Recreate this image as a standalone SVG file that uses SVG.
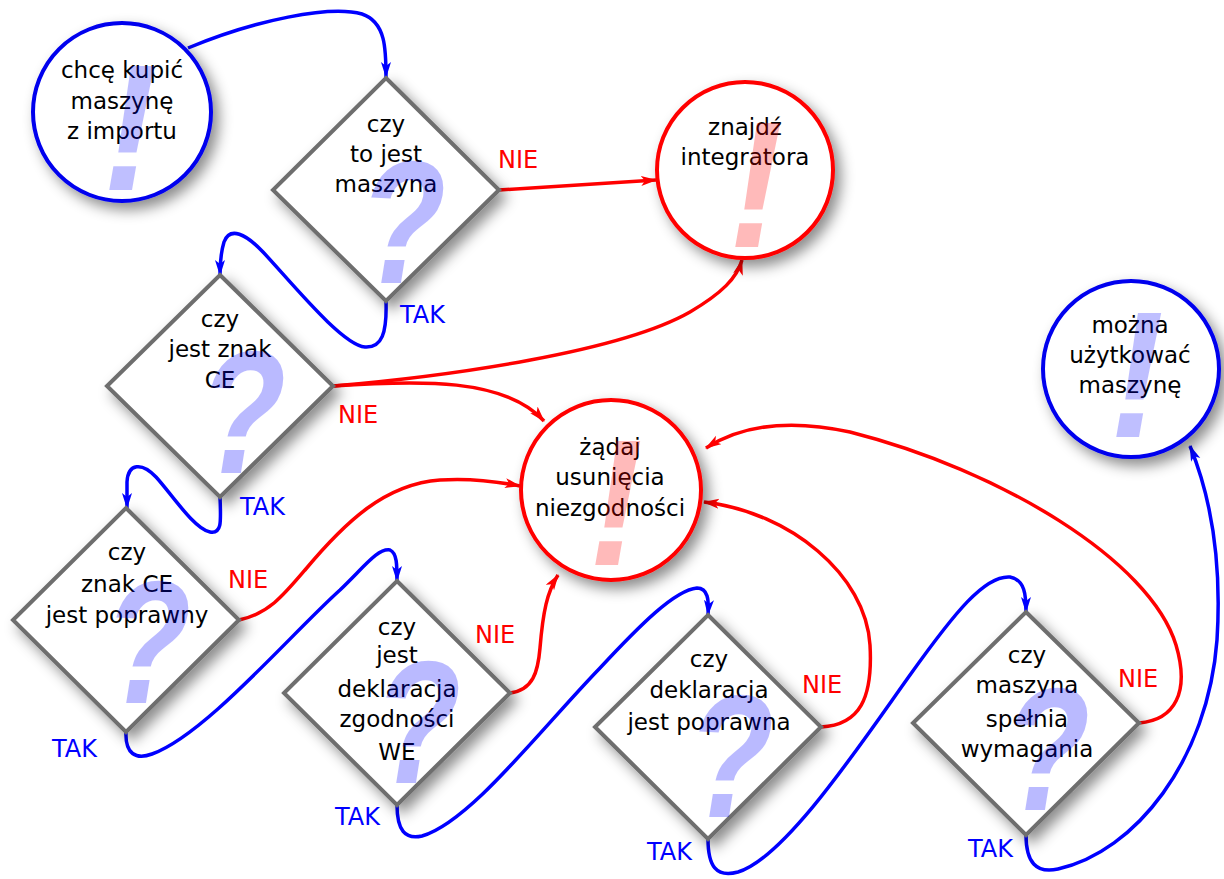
<svg xmlns="http://www.w3.org/2000/svg" width="1224" height="879" viewBox="0 0 1224 879">
  <style>
    .txt { font-family: "DejaVu Sans", "Liberation Sans", sans-serif; font-size: 23px; fill: #000; text-anchor: middle; }
    .lbl { font-family: "DejaVu Sans", "Liberation Sans", sans-serif; font-size: 24px; }
    .nie { fill: #ff0000; }
    .tak { fill: #0000ff; }
    .dia { fill: #fff; stroke: #6e6e6e; stroke-width: 4; filter: url(#shadow); }
    .cb { fill: #fff; stroke: #0000ee; stroke-width: 4; filter: url(#shadow); }
    .cr { fill: #fff; stroke: #ff0000; stroke-width: 4; filter: url(#shadow); }
    .q { font-family: "Liberation Sans", sans-serif; font-weight: bold; font-size: 175px; text-anchor: middle; fill: #0000ff; fill-opacity: 0.27; }
    .exb { font-family: "Liberation Sans", sans-serif; font-weight: bold; font-style: italic; font-size: 180px; text-anchor: middle; fill: #0000ff; fill-opacity: 0.25; }
    .exr { font-family: "Liberation Sans", sans-serif; font-weight: bold; font-style: italic; font-size: 180px; text-anchor: middle; fill: #ff0000; fill-opacity: 0.27; }
    .yes { fill: none; stroke: #0000ff; stroke-width: 3.5; marker-end: url(#ab); }
    .no { fill: none; stroke: #ff0000; stroke-width: 3.5; marker-end: url(#ar); }
  </style>
  <defs>
    <filter id="shadow" x="-30%" y="-30%" width="160%" height="160%">
      <feDropShadow dx="6" dy="7" stdDeviation="7" flood-color="#000" flood-opacity="0.45"/>
    </filter>
    <marker id="ab" markerUnits="userSpaceOnUse" markerWidth="18" markerHeight="12" refX="15" refY="5" orient="auto">
      <path d="M0,0 L16,5 L0,10 L4,5 z" fill="#0000ff"/>
    </marker>
    <marker id="ar" markerUnits="userSpaceOnUse" markerWidth="18" markerHeight="12" refX="15" refY="5" orient="auto">
      <path d="M0,0 L16,5 L0,10 L4,5 z" fill="#ff0000"/>
    </marker>
  </defs>

  <rect width="1224" height="879" fill="#fff"/>

  <!-- connectors -->
  <g id="connectors">
    <path class="yes" d="M188,48 C255,20 330,5 362,14 C386,22 386,50 386,77"/>
    <path class="no" d="M499,190 L656,180"/>
    <path class="yes" d="M386,301 C387,333 382,348 365,347 C342,345 292,283 263,252 C246,234 230,226 224,242 C221,252 220,262 220,275"/>
    <path class="no" d="M333,386 C450,376 620,352 690,312 C722,293 737,278 742,260"/>
    <path class="no" d="M333,386 C420,380 505,378 544,421"/>
    <path class="yes" d="M220,497 C221,522 222,534 210,532 C194,529 170,492 156,477 C142,462 128,463 127,482 L127,508"/>
    <path class="no" d="M239,620 C268,614 283,596 305,570 C345,522 385,484 440,480 C470,478 495,481 520,486"/>
    <path class="yes" d="M126,732 C125,754 136,760 152,754 C205,735 290,635 340,590 C365,566 378,548 390,550 C397,553 397,565 397,581"/>
    <path class="no" d="M510,693 C533,690 538,672 540,648 C543,612 547,592 558,575"/>
    <path class="yes" d="M397,805 C397,830 405,840 422,836 C470,822 540,730 600,668 C640,625 675,590 697,588 C708,588 709,600 708,615"/>
    <path class="no" d="M821,727 C860,725 873,698 870,645 C866,575 790,512 704,502"/>
    <path class="yes" d="M708,839 C708,866 716,878 738,872 C785,858 860,745 910,675 C955,612 985,575 1010,577 C1025,580 1026,595 1026,612"/>
    <path class="no" d="M1139,723 C1175,720 1190,692 1176,645 C1150,560 1000,470 850,432 C790,419 742,425 706,448"/>
    <path class="yes" d="M1026,835 C1026,862 1036,874 1058,869 C1135,852 1208,760 1217,640 C1222,560 1210,495 1190,446"/>
  </g>

  <!-- start -->
  <g id="start">
    <circle class="cb" cx="122" cy="112" r="89"/>
    <text class="txt" x="122" y="78">chcę kupić</text>
    <text class="txt" x="122" y="109">maszynę</text>
    <text class="txt" x="122" y="139">z importu</text>
    <text class="exb" transform="translate(130,190) scale(0.9,1)">!</text>
  </g>

  <g id="q-maszyna">
    <polygon class="dia" points="386,78 499,190 386,301 273,190"/>
    <text class="txt" x="386" y="132">czy</text>
    <text class="txt" x="386" y="162">to jest</text>
    <text class="txt" x="386" y="192">maszyna</text>
    <text class="q" transform="translate(394,283) skewX(-9) scale(0.8,1)">?</text>
  </g>

  <g id="integrator">
    <circle class="cr" cx="745" cy="170" r="88"/>
    <text class="txt" x="745" y="135">znajdź</text>
    <text class="txt" x="745" y="165">integratora</text>
    <text class="exr" transform="translate(756,247) scale(0.9,1)">!</text>
  </g>

  <g id="q-znak">
    <polygon class="dia" points="220,275 333,386 220,497 107,386"/>
    <text class="txt" x="220" y="327">czy</text>
    <text class="txt" x="220" y="357">jest znak</text>
    <text class="txt" x="220" y="388">CE</text>
    <text class="q" transform="translate(234,473) skewX(-9) scale(0.8,1)">?</text>
  </g>

  <g id="q-znak-poprawny">
    <polygon class="dia" points="126,508 239,620 126,732 13,620"/>
    <text class="txt" x="127" y="560">czy</text>
    <text class="txt" x="127" y="592">znak CE</text>
    <text class="txt" x="127" y="623">jest poprawny</text>
    <text class="q" transform="translate(139,703) skewX(-9) scale(0.8,1)">?</text>
  </g>

  <g id="usun">
    <circle class="cr" cx="611" cy="490" r="90"/>
    <text class="txt" x="610" y="455">żądaj</text>
    <text class="txt" x="610" y="485">usunięcia</text>
    <text class="txt" x="610" y="516">niezgodności</text>
    <text class="exr" transform="translate(616,565) scale(0.9,1)">!</text>
  </g>

  <g id="q-deklaracja">
    <polygon class="dia" points="397,581 510,693 397,805 284,693"/>
    <text class="txt" x="397" y="635">czy</text>
    <text class="txt" x="397" y="663">jest</text>
    <text class="txt" x="397" y="697">deklaracja</text>
    <text class="txt" x="397" y="727">zgodności</text>
    <text class="txt" x="397" y="760">WE</text>
    <text class="q" transform="translate(409,783) skewX(-9) scale(0.8,1)">?</text>
  </g>

  <g id="q-deklaracja-poprawna">
    <polygon class="dia" points="708,615 821,727 708,839 595,727"/>
    <text class="txt" x="709" y="667">czy</text>
    <text class="txt" x="709" y="698">deklaracja</text>
    <text class="txt" x="709" y="730">jest poprawna</text>
    <text class="q" transform="translate(722,817) skewX(-9) scale(0.8,1)">?</text>
  </g>

  <g id="q-wymagania">
    <polygon class="dia" points="1026,612 1139,723 1026,835 913,723"/>
    <text class="txt" x="1027" y="663">czy</text>
    <text class="txt" x="1027" y="693">maszyna</text>
    <text class="txt" x="1027" y="727">spełnia</text>
    <text class="txt" x="1027" y="757">wymagania</text>
    <text class="q" transform="translate(1038,810) skewX(-9) scale(0.8,1)">?</text>
  </g>

  <g id="uzytkowanie">
    <circle class="cb" cx="1131" cy="369" r="88"/>
    <text class="txt" x="1130" y="333">można</text>
    <text class="txt" x="1130" y="363">użytkować</text>
    <text class="txt" x="1130" y="393">maszynę</text>
    <text class="exb" transform="translate(1137,437) scale(0.9,1)">!</text>
  </g>

  <!-- branch labels -->
  <g id="labels" class="lbl">
    <text class="nie" x="498" y="168">NIE</text>
    <text class="tak" x="400" y="323">TAK</text>
    <text class="nie" x="338" y="423">NIE</text>
    <text class="tak" x="240" y="515">TAK</text>
    <text class="nie" x="228" y="588">NIE</text>
    <text class="tak" x="52" y="757">TAK</text>
    <text class="nie" x="475" y="643">NIE</text>
    <text class="tak" x="335" y="825">TAK</text>
    <text class="nie" x="802" y="693">NIE</text>
    <text class="tak" x="647" y="860">TAK</text>
    <text class="nie" x="1118" y="687">NIE</text>
    <text class="tak" x="968" y="857">TAK</text>
  </g>
</svg>
